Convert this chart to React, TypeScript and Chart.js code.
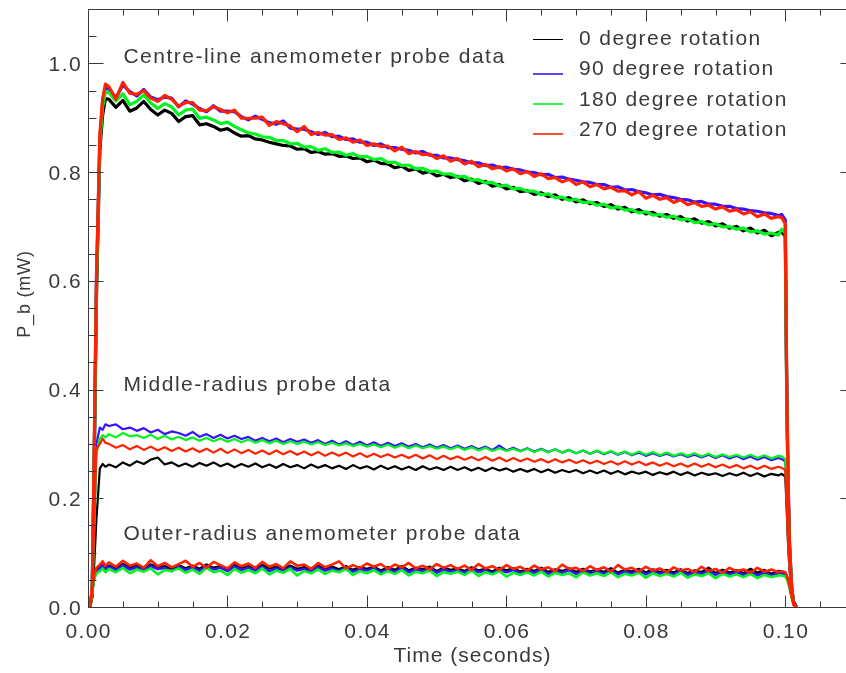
import React, { useEffect, useRef } from 'react';
import { Chart, registerables } from 'chart.js';

Chart.register(...registerables);

// ---------- axis settings / labels ----------
const X_MIN = 0;
const X_MAX = 0.11;
const X_TICKS = [0, 0.02, 0.04, 0.06, 0.08, 0.1];
const X_TICK_LABELS = ['0.00', '0.02', '0.04', '0.06', '0.08', '0.10'];
const X_MINOR_STEP = 0.005;
const Y_MIN = 0;
const Y_MAX = 1.1;
const Y_TICKS = [0, 0.2, 0.4, 0.6, 0.8, 1.0];
const Y_TICK_LABELS = ['0.0', '0.2', '0.4', '0.6', '0.8', '1.0'];
const Y_MINOR_STEP = 0.05;
const X_TITLE = 'Time (seconds)';
const Y_TITLE = 'P_b (mW)';
const GROUP_NOTES = [
  { text: 'Centre-line anemometer probe data', x: 0.0025, y: 1.0 },
  { text: 'Middle-radius probe data', x: 0.0025, y: 0.398 },
  { text: 'Outer-radius anemometer probe data', x: 0.0025, y: 0.124 },
];
const ROTATION_LABELS = ['0 degree rotation', '90 degree rotation', '180 degree rotation', '270 degree rotation'];
const ROTATION_COLORS = ['#000000', '#3a12ff', '#00f51e', '#ff2200'];

// ---------- time (seconds) ----------
const TIME = [
  0, 0.0003, 0.0006, 0.0009, 0.0012, 0.0017, 0.0021, 0.0025,
  0.003, 0.004, 0.005, 0.006, 0.007, 0.008, 0.009, 0.010, 0.011, 0.012,
  0.013, 0.014, 0.015, 0.016, 0.017, 0.018, 0.019, 0.020, 0.021, 0.022,
  0.023, 0.024, 0.025, 0.026, 0.027, 0.028, 0.029, 0.030, 0.031, 0.032,
  0.033, 0.034, 0.035, 0.036, 0.037, 0.038, 0.039, 0.040, 0.041, 0.042,
  0.043, 0.044, 0.045, 0.046, 0.047, 0.048, 0.049, 0.050, 0.051, 0.052,
  0.053, 0.054, 0.055, 0.056, 0.057, 0.058, 0.059, 0.060, 0.061, 0.062,
  0.063, 0.064, 0.065, 0.066, 0.067, 0.068, 0.069, 0.070, 0.071, 0.072,
  0.073, 0.074, 0.075, 0.076, 0.077, 0.078, 0.079, 0.080, 0.081, 0.082,
  0.083, 0.084, 0.085, 0.086, 0.087, 0.088, 0.089, 0.090, 0.091, 0.092,
  0.093, 0.094, 0.095, 0.096, 0.097, 0.098, 0.099,
  0.0995, 0.1, 0.1002, 0.1004, 0.1006, 0.1009, 0.1012, 0.1016,
];

// ---------- centre-line probe (mW) ----------
const CENTRE_0 = [
  0, 0.002, 0.02, 0.27, 0.56, 0.84, 0.905, 0.935,
  0.934, 0.919, 0.932, 0.912, 0.918, 0.930, 0.915, 0.905, 0.914, 0.908,
  0.893, 0.902, 0.904, 0.887, 0.889, 0.884, 0.877, 0.880, 0.872, 0.866,
  0.867, 0.861, 0.859, 0.855, 0.852, 0.849, 0.848, 0.842, 0.843, 0.836,
  0.838, 0.833, 0.834, 0.829, 0.830, 0.825, 0.826, 0.819, 0.822, 0.816,
  0.815, 0.808, 0.811, 0.803, 0.806, 0.798, 0.801, 0.793, 0.796, 0.790,
  0.792, 0.784, 0.787, 0.779, 0.783, 0.774, 0.777, 0.769, 0.772, 0.764,
  0.766, 0.759, 0.762, 0.755, 0.758, 0.750, 0.753, 0.745, 0.749, 0.742,
  0.744, 0.737, 0.740, 0.732, 0.735, 0.727, 0.731, 0.723, 0.726, 0.719,
  0.722, 0.715, 0.718, 0.710, 0.714, 0.706, 0.709, 0.701, 0.705, 0.697,
  0.700, 0.692, 0.697, 0.688, 0.693, 0.683, 0.689,
  0.690, 0.682, 0.40, 0.22, 0.11, 0.035, 0.008, 0,
];
const CENTRE_90 = [
  0, 0.002, 0.03, 0.29, 0.59, 0.86, 0.93, 0.955,
  0.953, 0.937, 0.960, 0.948, 0.940, 0.952, 0.938, 0.933, 0.938, 0.936,
  0.920, 0.931, 0.925, 0.917, 0.911, 0.922, 0.912, 0.912, 0.911, 0.902,
  0.896, 0.903, 0.897, 0.891, 0.888, 0.894, 0.881, 0.879, 0.879, 0.874,
  0.869, 0.873, 0.865, 0.866, 0.860, 0.861, 0.855, 0.855, 0.849, 0.852,
  0.845, 0.845, 0.842, 0.840, 0.835, 0.838, 0.831, 0.831, 0.826, 0.826,
  0.823, 0.821, 0.817, 0.817, 0.812, 0.813, 0.808, 0.809, 0.805, 0.804,
  0.800, 0.799, 0.795, 0.796, 0.790, 0.791, 0.787, 0.785, 0.782, 0.781,
  0.777, 0.777, 0.772, 0.773, 0.767, 0.768, 0.764, 0.762, 0.758, 0.759,
  0.755, 0.753, 0.750, 0.749, 0.745, 0.746, 0.741, 0.741, 0.737, 0.737,
  0.733, 0.732, 0.729, 0.728, 0.725, 0.724, 0.720,
  0.722, 0.712, 0.43, 0.24, 0.12, 0.04, 0.006, 0,
];
const CENTRE_180 = [
  0, 0.002, 0.025, 0.28, 0.58, 0.855, 0.92, 0.948,
  0.946, 0.931, 0.944, 0.924, 0.930, 0.942, 0.927, 0.917, 0.926, 0.920,
  0.905, 0.914, 0.916, 0.899, 0.901, 0.896, 0.889, 0.892, 0.884, 0.878,
  0.872, 0.870, 0.865, 0.864, 0.858, 0.858, 0.852, 0.853, 0.846, 0.847,
  0.840, 0.843, 0.836, 0.837, 0.831, 0.834, 0.828, 0.829, 0.823, 0.825,
  0.818, 0.818, 0.812, 0.813, 0.806, 0.807, 0.801, 0.802, 0.796, 0.797,
  0.791, 0.792, 0.785, 0.786, 0.780, 0.781, 0.774, 0.776, 0.769, 0.770,
  0.765, 0.765, 0.758, 0.760, 0.753, 0.754, 0.748, 0.750, 0.744, 0.745,
  0.739, 0.741, 0.734, 0.736, 0.730, 0.731, 0.725, 0.727, 0.721, 0.722,
  0.717, 0.719, 0.712, 0.714, 0.707, 0.709, 0.703, 0.705, 0.699, 0.700,
  0.695, 0.697, 0.690, 0.692, 0.686, 0.688, 0.684,
  0.695, 0.688, 0.41, 0.22, 0.115, 0.04, 0.006, 0,
];
const CENTRE_270 = [
  0, 0.003, 0.03, 0.30, 0.60, 0.87, 0.935, 0.962,
  0.957, 0.934, 0.965, 0.945, 0.943, 0.950, 0.936, 0.930, 0.941, 0.934,
  0.921, 0.928, 0.928, 0.914, 0.913, 0.920, 0.915, 0.909, 0.914, 0.899,
  0.899, 0.899, 0.901, 0.886, 0.893, 0.889, 0.885, 0.874, 0.884, 0.869,
  0.873, 0.868, 0.869, 0.860, 0.863, 0.855, 0.859, 0.849, 0.852, 0.847,
  0.848, 0.839, 0.846, 0.834, 0.838, 0.832, 0.833, 0.825, 0.830, 0.820,
  0.825, 0.815, 0.820, 0.810, 0.814, 0.806, 0.810, 0.802, 0.806, 0.797,
  0.801, 0.792, 0.797, 0.788, 0.790, 0.782, 0.787, 0.777, 0.782, 0.773,
  0.777, 0.769, 0.772, 0.765, 0.766, 0.758, 0.764, 0.752, 0.757, 0.750,
  0.753, 0.744, 0.749, 0.740, 0.744, 0.737, 0.739, 0.732, 0.736, 0.728,
  0.731, 0.723, 0.727, 0.718, 0.723, 0.715, 0.718,
  0.716, 0.705, 0.42, 0.23, 0.12, 0.04, 0.005, 0,
];

// ---------- middle-radius probe (mW) ----------
const MIDDLE_0 = [
  0, 0.002, 0.02, 0.08, 0.16, 0.255, 0.263, 0.258,
  0.262, 0.257, 0.266, 0.260, 0.268, 0.263, 0.271, 0.275, 0.262, 0.266,
  0.259, 0.264, 0.258, 0.265, 0.260, 0.266, 0.259, 0.264, 0.257, 0.263,
  0.258, 0.264, 0.257, 0.262, 0.256, 0.263, 0.257, 0.261, 0.255, 0.262,
  0.256, 0.261, 0.255, 0.260, 0.254, 0.261, 0.255, 0.259, 0.253, 0.260,
  0.254, 0.259, 0.253, 0.258, 0.252, 0.259, 0.253, 0.257, 0.252, 0.258,
  0.252, 0.257, 0.251, 0.256, 0.250, 0.256, 0.251, 0.255, 0.249, 0.254,
  0.249, 0.254, 0.248, 0.253, 0.247, 0.252, 0.248, 0.252, 0.246, 0.251,
  0.246, 0.251, 0.245, 0.250, 0.244, 0.249, 0.245, 0.249, 0.243, 0.248,
  0.244, 0.249, 0.243, 0.248, 0.242, 0.247, 0.243, 0.246, 0.241, 0.246,
  0.242, 0.247, 0.241, 0.246, 0.240, 0.245, 0.242,
  0.245, 0.240, 0.18, 0.115, 0.07, 0.025, 0.01, 0,
];
const MIDDLE_90 = [
  0, 0.003, 0.03, 0.15, 0.30, 0.33, 0.326, 0.336,
  0.333, 0.336, 0.327, 0.330, 0.324, 0.329, 0.321, 0.326, 0.318, 0.323,
  0.320, 0.315, 0.322, 0.313, 0.318, 0.311, 0.317, 0.310, 0.315, 0.309,
  0.313, 0.306, 0.311, 0.305, 0.310, 0.303, 0.309, 0.304, 0.308, 0.302,
  0.307, 0.300, 0.306, 0.299, 0.305, 0.298, 0.304, 0.297, 0.303, 0.296,
  0.302, 0.296, 0.301, 0.295, 0.300, 0.294, 0.299, 0.293, 0.298, 0.292,
  0.297, 0.291, 0.296, 0.290, 0.295, 0.289, 0.297, 0.288, 0.293, 0.287,
  0.292, 0.286, 0.291, 0.285, 0.290, 0.284, 0.289, 0.283, 0.288, 0.282,
  0.287, 0.281, 0.286, 0.280, 0.285, 0.279, 0.284, 0.278, 0.283, 0.278,
  0.282, 0.277, 0.281, 0.276, 0.280, 0.275, 0.280, 0.274, 0.279, 0.273,
  0.278, 0.272, 0.277, 0.271, 0.276, 0.270, 0.274,
  0.272, 0.268, 0.20, 0.13, 0.08, 0.03, 0.004, 0,
];
const MIDDLE_180 = [
  0, 0.003, 0.03, 0.14, 0.28, 0.31, 0.316, 0.312,
  0.318, 0.312, 0.320, 0.314, 0.316, 0.311, 0.317, 0.309, 0.315, 0.308,
  0.313, 0.307, 0.312, 0.306, 0.311, 0.305, 0.310, 0.304, 0.309, 0.303,
  0.308, 0.302, 0.307, 0.301, 0.306, 0.300, 0.305, 0.300, 0.304, 0.299,
  0.303, 0.298, 0.302, 0.297, 0.301, 0.296, 0.300, 0.295, 0.299, 0.294,
  0.299, 0.293, 0.298, 0.292, 0.297, 0.292, 0.296, 0.291, 0.295, 0.290,
  0.295, 0.289, 0.294, 0.288, 0.293, 0.287, 0.292, 0.287, 0.291, 0.286,
  0.291, 0.285, 0.290, 0.284, 0.290, 0.284, 0.289, 0.283, 0.288, 0.282,
  0.288, 0.282, 0.287, 0.281, 0.286, 0.280, 0.286, 0.280, 0.285, 0.279,
  0.284, 0.278, 0.283, 0.278, 0.283, 0.277, 0.282, 0.276, 0.281, 0.276,
  0.280, 0.275, 0.280, 0.274, 0.279, 0.273, 0.278,
  0.277, 0.272, 0.20, 0.13, 0.08, 0.03, 0.004, 0,
];
const MIDDLE_270 = [
  0, 0.004, 0.035, 0.16, 0.29, 0.30, 0.31, 0.302,
  0.300, 0.293, 0.298, 0.290, 0.296, 0.289, 0.295, 0.288, 0.294, 0.287,
  0.293, 0.286, 0.292, 0.285, 0.291, 0.284, 0.291, 0.283, 0.290, 0.283,
  0.289, 0.282, 0.288, 0.281, 0.288, 0.281, 0.287, 0.280, 0.286, 0.279,
  0.285, 0.278, 0.284, 0.278, 0.284, 0.277, 0.283, 0.276, 0.282, 0.276,
  0.281, 0.275, 0.280, 0.274, 0.280, 0.273, 0.279, 0.272, 0.278, 0.272,
  0.277, 0.271, 0.276, 0.270, 0.276, 0.269, 0.275, 0.268, 0.274, 0.268,
  0.273, 0.267, 0.272, 0.266, 0.272, 0.266, 0.271, 0.265, 0.270, 0.264,
  0.269, 0.263, 0.268, 0.262, 0.268, 0.262, 0.267, 0.261, 0.266, 0.260,
  0.265, 0.259, 0.264, 0.258, 0.264, 0.258, 0.263, 0.257, 0.262, 0.256,
  0.261, 0.255, 0.260, 0.254, 0.260, 0.254, 0.258,
  0.256, 0.252, 0.19, 0.12, 0.075, 0.028, 0.004, 0,
];

// ---------- outer-radius probe (mW) ----------
const OUTER_0 = [
  0, 0.004, 0.03, 0.055, 0.068, 0.074, 0.079, 0.072,
  0.076, 0.071, 0.079, 0.072, 0.077, 0.070, 0.078, 0.073, 0.075, 0.069,
  0.077, 0.071, 0.076, 0.070, 0.078, 0.072, 0.075, 0.069, 0.077, 0.071,
  0.075, 0.070, 0.077, 0.071, 0.074, 0.069, 0.076, 0.070, 0.073, 0.068,
  0.076, 0.070, 0.074, 0.069, 0.075, 0.068, 0.073, 0.070, 0.074, 0.067,
  0.073, 0.068, 0.075, 0.067, 0.072, 0.069, 0.074, 0.066, 0.072, 0.068,
  0.071, 0.066, 0.073, 0.067, 0.070, 0.065, 0.072, 0.067, 0.071, 0.065,
  0.070, 0.066, 0.072, 0.064, 0.069, 0.066, 0.071, 0.064, 0.070, 0.065,
  0.069, 0.064, 0.071, 0.063, 0.068, 0.065, 0.070, 0.063, 0.069, 0.064,
  0.068, 0.063, 0.069, 0.062, 0.067, 0.064, 0.072, 0.062, 0.068, 0.063,
  0.067, 0.062, 0.070, 0.063, 0.068, 0.061, 0.066,
  0.065, 0.063, 0.057, 0.05, 0.04, 0.022, 0.01, 0.002,
];
const OUTER_90 = [
  0, 0.004, 0.03, 0.055, 0.066, 0.071, 0.077, 0.069,
  0.074, 0.068, 0.076, 0.069, 0.073, 0.067, 0.075, 0.070, 0.072, 0.066,
  0.074, 0.068, 0.073, 0.067, 0.075, 0.069, 0.072, 0.066, 0.074, 0.068,
  0.072, 0.067, 0.074, 0.066, 0.071, 0.066, 0.073, 0.067, 0.070, 0.065,
  0.073, 0.067, 0.071, 0.066, 0.072, 0.065, 0.070, 0.067, 0.071, 0.064,
  0.070, 0.065, 0.072, 0.064, 0.069, 0.066, 0.071, 0.063, 0.069, 0.065,
  0.068, 0.063, 0.070, 0.064, 0.067, 0.062, 0.069, 0.064, 0.068, 0.062,
  0.067, 0.063, 0.069, 0.061, 0.066, 0.063, 0.068, 0.061, 0.067, 0.062,
  0.066, 0.061, 0.068, 0.060, 0.065, 0.062, 0.067, 0.060, 0.066, 0.061,
  0.065, 0.060, 0.066, 0.059, 0.064, 0.061, 0.066, 0.059, 0.065, 0.060,
  0.064, 0.059, 0.065, 0.058, 0.064, 0.058, 0.062,
  0.062, 0.060, 0.055, 0.048, 0.038, 0.02, 0.006, 0,
];
const OUTER_180 = [
  0, 0.004, 0.028, 0.052, 0.062, 0.066, 0.071, 0.064,
  0.070, 0.064, 0.072, 0.062, 0.069, 0.065, 0.071, 0.060, 0.068, 0.066,
  0.071, 0.063, 0.069, 0.061, 0.072, 0.064, 0.067, 0.059, 0.070, 0.063,
  0.068, 0.062, 0.071, 0.060, 0.067, 0.063, 0.070, 0.058, 0.066, 0.062,
  0.069, 0.061, 0.067, 0.064, 0.070, 0.059, 0.066, 0.062, 0.068, 0.060,
  0.066, 0.061, 0.068, 0.058, 0.065, 0.062, 0.067, 0.057, 0.064, 0.061,
  0.065, 0.059, 0.067, 0.057, 0.064, 0.060, 0.066, 0.056, 0.063, 0.059,
  0.064, 0.058, 0.065, 0.056, 0.063, 0.059, 0.062, 0.055, 0.064, 0.058,
  0.062, 0.057, 0.064, 0.055, 0.061, 0.058, 0.063, 0.054, 0.062, 0.057,
  0.061, 0.056, 0.063, 0.054, 0.060, 0.057, 0.062, 0.053, 0.061, 0.056,
  0.060, 0.055, 0.061, 0.053, 0.059, 0.055, 0.058,
  0.058, 0.056, 0.052, 0.045, 0.036, 0.018, 0.005, 0,
];
const OUTER_270 = [
  0, 0.006, 0.035, 0.06, 0.072, 0.078, 0.084, 0.076,
  0.082, 0.074, 0.085, 0.076, 0.080, 0.072, 0.086, 0.075, 0.081, 0.073,
  0.079, 0.085, 0.074, 0.081, 0.072, 0.083, 0.077, 0.071, 0.082, 0.075,
  0.080, 0.072, 0.083, 0.074, 0.079, 0.071, 0.084, 0.076, 0.078, 0.070,
  0.081, 0.073, 0.078, 0.084, 0.071, 0.077, 0.072, 0.080, 0.074, 0.079,
  0.070, 0.078, 0.073, 0.081, 0.071, 0.076, 0.069, 0.079, 0.072, 0.077,
  0.070, 0.076, 0.068, 0.079, 0.071, 0.075, 0.068, 0.077, 0.070, 0.074,
  0.067, 0.076, 0.069, 0.073, 0.066, 0.078, 0.070, 0.072, 0.066, 0.075,
  0.068, 0.073, 0.065, 0.077, 0.069, 0.072, 0.065, 0.074, 0.067, 0.071,
  0.064, 0.073, 0.067, 0.070, 0.064, 0.074, 0.066, 0.070, 0.063, 0.072,
  0.066, 0.069, 0.063, 0.072, 0.065, 0.069, 0.064,
  0.066, 0.064, 0.058, 0.05, 0.04, 0.02, 0.006, 0,
];

const GROUPS = [
  [CENTRE_0, CENTRE_90, CENTRE_180, CENTRE_270],
  [MIDDLE_0, MIDDLE_90, MIDDLE_180, MIDDLE_270],
  [OUTER_0, OUTER_90, OUTER_180, OUTER_270],
];
// line widths standing in for the noise band of each probe group
const GROUP_LINE_WIDTHS = [3.2, 2.2, 2.6];

// ---------- style ----------
const FONT = "'Liberation Sans', Arial, sans-serif";
const INK = '#3a3a3a';
const CANVAS_W = 860;
const CANVAS_H = 673;

function drawSpaced(ctx: CanvasRenderingContext2D, text: string, x: number, y: number, spacing: number) {
  (ctx as any).letterSpacing = spacing + 'px';
  ctx.fillText(text, x, y);
  (ctx as any).letterSpacing = '0px';
}

const idlFramePlugin = {
  id: 'idlFrame',
  afterDatasetsDraw(chart: any) {
    const { ctx, chartArea: a, scales } = chart;
    const xs = scales.x;
    const ys = scales.y;
    const L = Math.round(a.left) + 0.5;
    const R = Math.round(a.right) + 0.5;
    const T = Math.round(a.top) + 0.5;
    const B = Math.round(a.bottom) + 0.5;
    ctx.save();
    ctx.strokeStyle = INK;
    ctx.lineWidth = 1;
    ctx.beginPath();
    ctx.moveTo(L, T);
    ctx.lineTo(R, T);
    ctx.lineTo(R, B);
    ctx.lineTo(L, B);
    ctx.closePath();
    const nx = Math.round((X_MAX - X_MIN) / X_MINOR_STEP);
    for (let i = 0; i <= nx; i++) {
      const v = X_MIN + i * X_MINOR_STEP;
      const major = X_TICKS.some((t) => Math.abs(t - v) < 1e-9);
      const px = Math.round(xs.getPixelForValue(v)) + 0.5;
      const len = major ? 12 : 6;
      ctx.moveTo(px, B);
      ctx.lineTo(px, B - len);
      ctx.moveTo(px, T);
      ctx.lineTo(px, T + len);
    }
    const ny = Math.round((Y_MAX - Y_MIN) / Y_MINOR_STEP);
    for (let i = 0; i <= ny; i++) {
      const v = Y_MIN + i * Y_MINOR_STEP;
      const major = Y_TICKS.some((t) => Math.abs(t - v) < 1e-9);
      const py = Math.round(ys.getPixelForValue(v)) + 0.5;
      const len = major ? 15 : 8;
      ctx.moveTo(L, py);
      ctx.lineTo(L + len, py);
      ctx.moveTo(R, py);
      ctx.lineTo(R - len, py);
    }
    ctx.stroke();

    ctx.fillStyle = INK;
    ctx.font = `21px ${FONT}`;
    // x tick labels
    ctx.textAlign = 'center';
    ctx.textBaseline = 'alphabetic';
    X_TICKS.forEach((v, i) => {
      drawSpaced(ctx, X_TICK_LABELS[i], xs.getPixelForValue(v) + 0.7, a.bottom + 31, 1.4);
    });
    // y tick labels
    ctx.textAlign = 'right';
    Y_TICKS.forEach((v, i) => {
      drawSpaced(ctx, Y_TICK_LABELS[i], a.left - 6, ys.getPixelForValue(v) + 7.5, 1.4);
    });
    // x title
    ctx.textAlign = 'center';
    drawSpaced(ctx, X_TITLE, (a.left + a.right) / 2 + 1, 662, 1.0);
    // y title
    ctx.save();
    ctx.translate(30, 294);
    ctx.rotate(-Math.PI / 2);
    ctx.font = `18px ${FONT}`;
    ctx.textAlign = 'center';
    ctx.textBaseline = 'alphabetic';
    drawSpaced(ctx, Y_TITLE, 0, 0, 0.8);
    ctx.restore();

    // group notes
    ctx.font = `21px ${FONT}`;
    ctx.textAlign = 'left';
    GROUP_NOTES.forEach((n) => {
      drawSpaced(ctx, n.text, xs.getPixelForValue(n.x) + 18, ys.getPixelForValue(n.y), 1.5);
    });

    // legend
    const legendLineY = [39.5, 74, 104, 134];
    const legendTextY = [45, 75, 106, 136];
    ROTATION_LABELS.forEach((lab, i) => {
      ctx.strokeStyle = ROTATION_COLORS[i];
      ctx.lineWidth = i === 0 ? 1 : 1.6;
      ctx.beginPath();
      ctx.moveTo(533, legendLineY[i]);
      ctx.lineTo(563, legendLineY[i]);
      ctx.stroke();
      ctx.fillStyle = INK;
      drawSpaced(ctx, lab, 579, legendTextY[i], 1.4);
    });
    ctx.restore();
  },
};

export default function App() {
  const canvasRef = useRef<HTMLCanvasElement | null>(null);

  useEffect(() => {
    const canvas = canvasRef.current;
    if (!canvas) return;
    const datasets: any[] = [];
    GROUPS.forEach((group, g) => {
      group.forEach((vals, r) => {
        datasets.push({
          label: ROTATION_LABELS[r],
          data: TIME.map((t, i) => ({ x: t, y: vals[i] })),
          borderColor: ROTATION_COLORS[r],
          backgroundColor: ROTATION_COLORS[r],
          borderWidth: GROUP_LINE_WIDTHS[g],
          borderJoinStyle: 'round',
          pointRadius: 0,
          tension: 0,
          fill: false,
          order: 4 - r,
        });
      });
    });
    const chart = new Chart(canvas, {
      type: 'line',
      data: { datasets },
      options: {
        animation: false,
        responsive: false,
        maintainAspectRatio: false,
        devicePixelRatio: 1,
        events: [],
        layout: { padding: { top: 9, right: CANVAS_W - 855, left: 0, bottom: 0 } },
        plugins: { legend: { display: false }, tooltip: { enabled: false } },
        scales: {
          x: {
            type: 'linear',
            min: X_MIN,
            max: X_MAX,
            grid: { display: false },
            border: { display: false },
            ticks: { display: false },
            afterFit: (s: any) => {
              s.height = CANVAS_H - 607;
            },
          },
          y: {
            type: 'linear',
            min: Y_MIN,
            max: Y_MAX,
            grid: { display: false },
            border: { display: false },
            ticks: { display: false },
            afterFit: (s: any) => {
              s.width = 88;
            },
          },
        },
      },
      plugins: [idlFramePlugin],
    });
    return () => chart.destroy();
  }, []);

  return (
    <div
      style={{
        position: 'fixed',
        left: 0,
        top: 0,
        width: 846,
        height: 673,
        overflow: 'hidden',
        background: '#ffffff',
      }}
    >
      <canvas
        ref={canvasRef}
        width={CANVAS_W}
        height={CANVAS_H}
        style={{ width: CANVAS_W, height: CANVAS_H, display: 'block' }}
      />
    </div>
  );
}
